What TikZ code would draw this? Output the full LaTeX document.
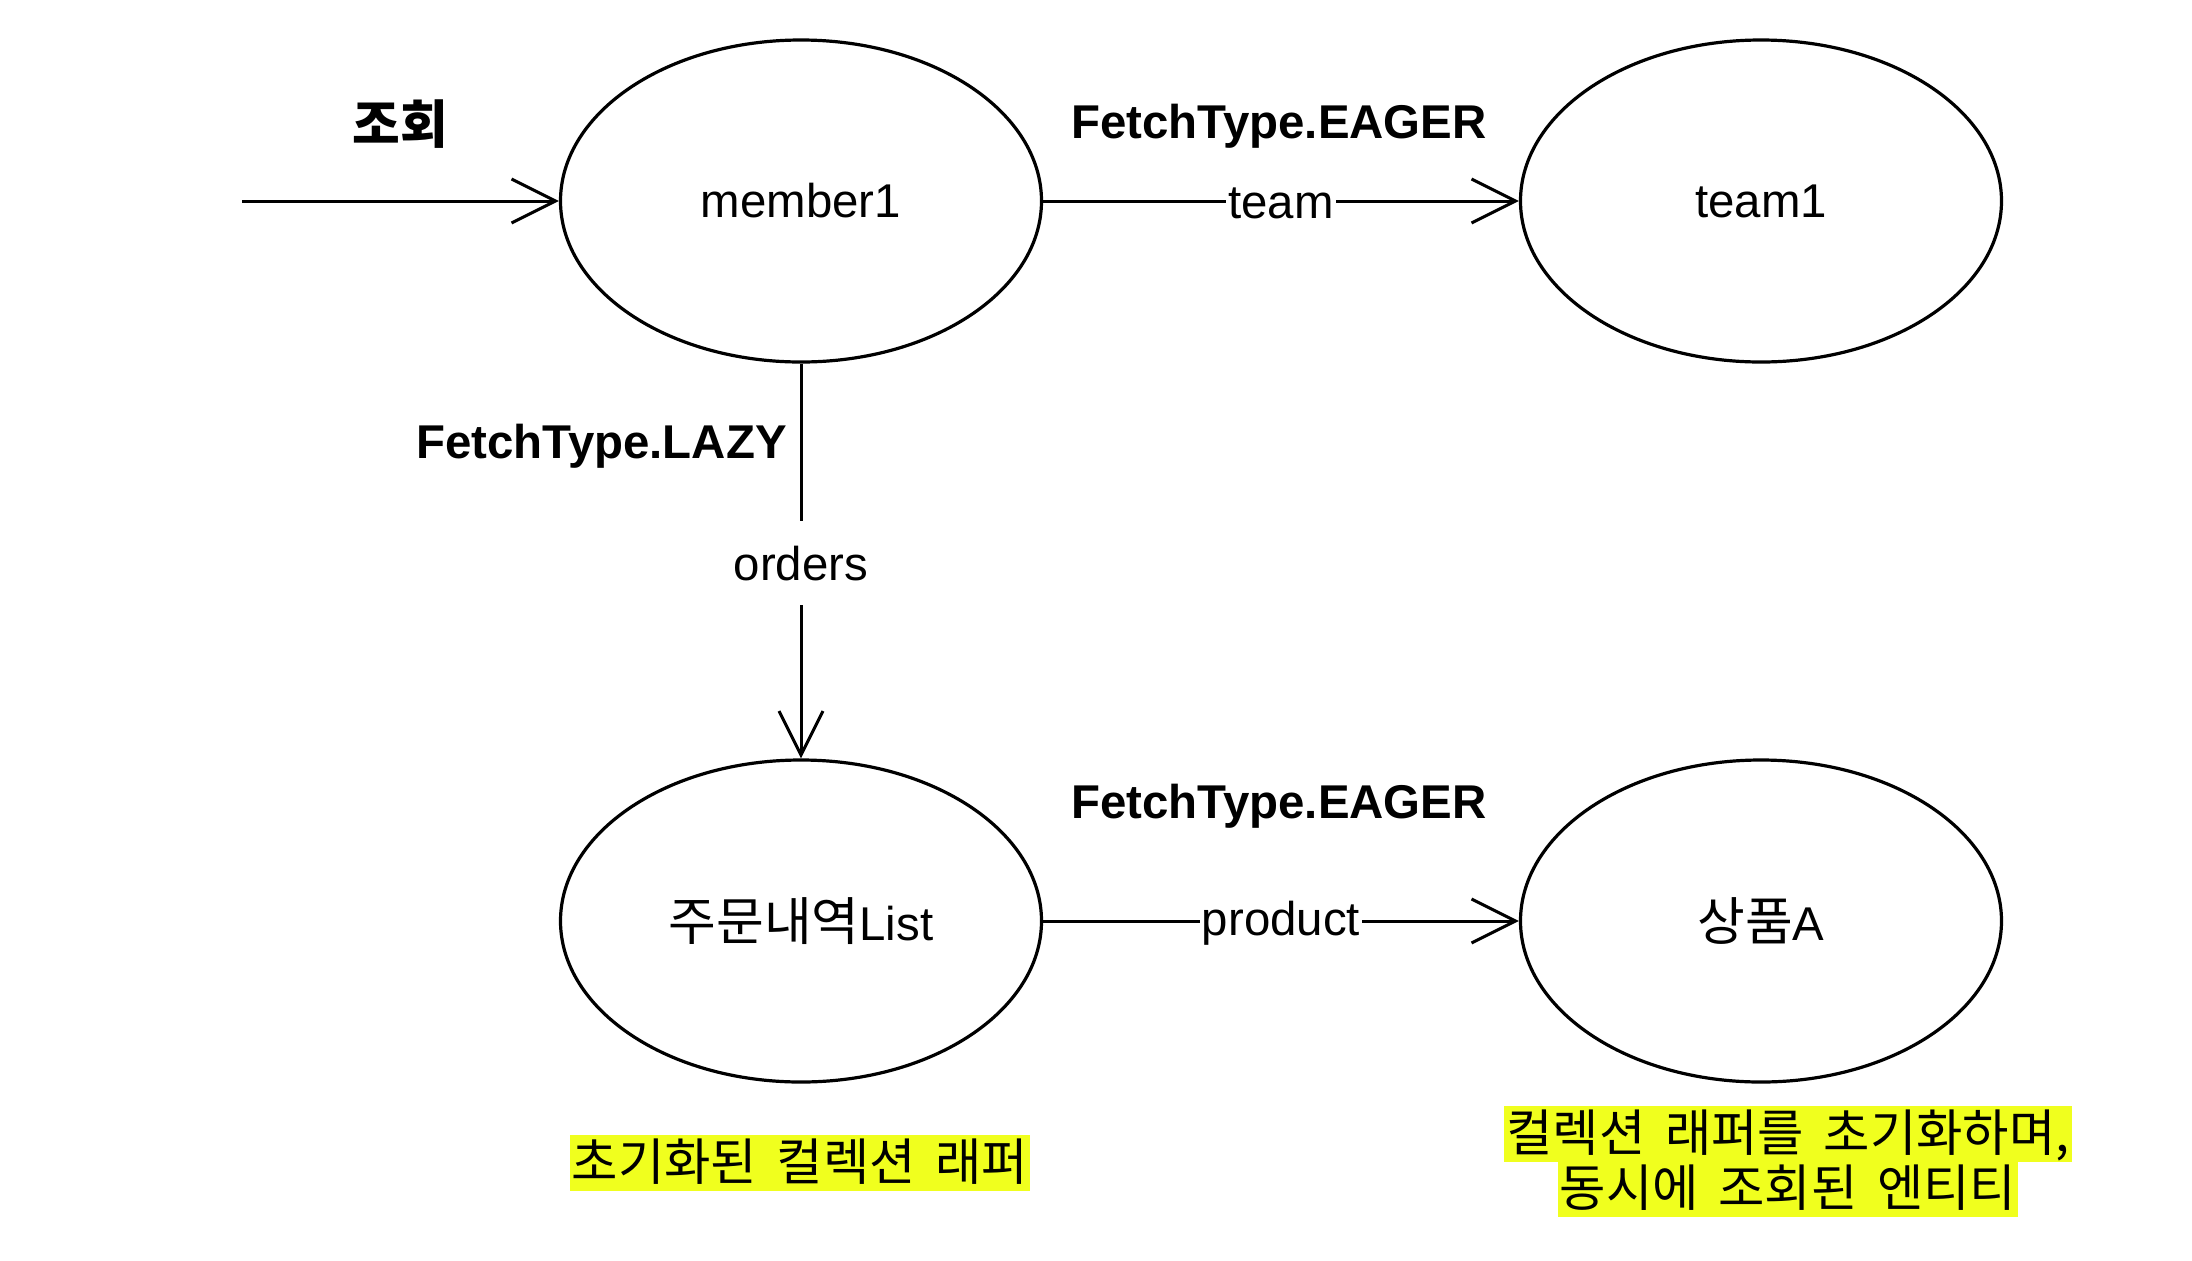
\documentclass[tikz,border=0pt]{standalone}
\usepackage{fontspec}
\setmainfont{Liberation Sans}
\newfontfamily\kr{Noto Sans CJK KR}[WordSpace=1.75,Scale=1.095]
\usetikzlibrary{shapes.geometric,arrows.meta}
\definecolor{hlyellow}{RGB}{240,255,30}
\tikzset{
  ent/.style={ellipse,draw=black,line width=1.6pt,minimum width=240.5pt,minimum height=161pt,inner sep=0pt,font=\fontsize{23.7pt}{28pt}\selectfont},
  conn/.style={line width=1.5pt,-{Straight Barb[length=22pt,width=22pt,line width=1.5pt]}},
  lbl/.style={fill=white,inner xsep=1pt,inner ysep=2pt,yshift=-1.2pt,font=\fontsize{23.7pt}{28pt}\selectfont},
  bold/.style={font=\fontsize{23.7pt}{28pt}\selectfont\bfseries,inner sep=0pt,yshift=-1.5pt},
  hl/.style={fill=hlyellow,inner xsep=1pt,inner ysep=0pt,text height=22.5pt,text depth=5.5pt,font=\fontsize{23pt}{28pt}\selectfont\kr}
}
\begin{document}
\begin{tikzpicture}[x=0.5pt,y=-0.5pt]
\useasboundingbox (0,0) rectangle (2192,1260);
\node[ent] (m1) at (801,201) {\raisebox{-1.2pt}{member1}};
\node[ent] (t1) at (1761,201) {\raisebox{-1.2pt}{team1}};
\node[ent] (ol) at (801,921) {\raisebox{-1.2pt}{{\kr 주문내역}List}};
\node[ent] (pa) at (1761,921) {\raisebox{-1.2pt}{{\kr 상품}A}};
\coordinate (start) at (242,201);
\draw[conn] (start) -- (m1);
\draw[conn] (m1) -- node[lbl] (lteam) {team} (t1);
\draw[conn] (m1) -- node[lbl,minimum height=42pt] (lorders) {orders} (ol);
\draw[conn] (ol) -- node[lbl] (lprod) {product} (pa);
\node[bold] (q) at (400,121) {\kr 조회};
\node[bold] (e1) at (1279,123) {FetchType.EAGER};
\node[bold,anchor=east] (lz) at (787,443) {FetchType.LAZY};
\node[bold] (e2) at (1279,803) {FetchType.EAGER};
\node[hl] (n1) at (800,1163) {초기화된 컬렉션 래퍼};
\node[hl] (n2a) at (1788,1134) {컬렉션 래퍼를 초기화하며,};
\node[hl] (n2b) at (1788,1189) {동시에 조회된 엔티티};
\end{tikzpicture}
\end{document}
